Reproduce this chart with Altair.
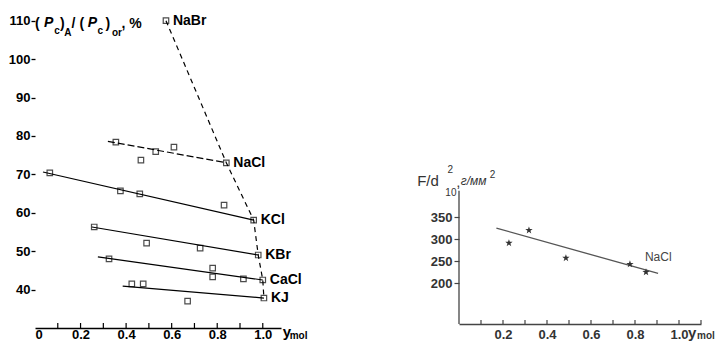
import altair as alt
import pandas as pd

# ---------------- left panel: measured points ----------------
nabr_x = [0.575]
nabr_y = [110.0]
nacl_x = [0.355, 0.465, 0.53, 0.61, 0.84]
nacl_y = [78.4, 73.7, 75.9, 77.1, 73.0]
kcl_x = [0.065, 0.375, 0.46, 0.83, 0.96]
kcl_y = [70.4, 65.7, 64.9, 62.0, 58.1]
kbr_x = [0.26, 0.49, 0.725, 0.98]
kbr_y = [56.3, 52.1, 50.8, 49.0]
cacl_x = [0.325, 0.78, 0.78, 0.915, 1.0]
cacl_y = [48.0, 45.6, 43.3, 42.8, 42.5]
kj_x = [0.425, 0.475, 0.67, 1.005]
kj_y = [41.5, 41.5, 37.0, 37.8]

# fitted straight lines (start / end)
fit_names = ["NaCl", "KCl", "KBr", "CaCl", "KJ"]
fit_x0 = [0.32, 0.035, 0.25, 0.276, 0.385]
fit_y0 = [78.6, 70.6, 56.3, 48.5, 40.9]
fit_x1 = [0.84, 0.96, 0.98, 1.0, 1.005]
fit_y1 = [73.0, 58.1, 49.0, 42.5, 37.8]

# end points joined by the dashed curve, with their labels
env_names = ["NaBr", "NaCl", "KCl", "KBr", "CaCl", "KJ"]
env_x = [0.575, 0.84, 0.96, 0.98, 1.0, 1.005]
env_y = [110.0, 73.0, 58.1, 49.0, 42.5, 37.8]

left_x_labels = [0, 0.2, 0.4, 0.6, 0.8, 1.0]
left_x_ticks = [0.1, 0.2, 0.3, 0.4, 0.5, 0.6, 0.7, 0.8, 0.9, 1.0]
left_y_labels = [40, 50, 60, 70, 80, 90, 100, 110]

# ---------------- right panel ----------------
right_x = [0.227, 0.318, 0.486, 0.777, 0.85]
right_y = [291, 320, 257, 243, 225]
right_fit_x = [0.17, 0.905]
right_fit_y = [325, 222]
right_label = "NaCl"
right_x_labels = [0.2, 0.4, 0.6, 0.8, 1.0]
right_x_ticks = [0.1, 0.2, 0.3, 0.4, 0.5, 0.6, 0.7, 0.8, 0.9, 1.0, 1.1]
right_y_labels = [200, 250, 300, 350]

FONT_L = "Liberation Sans, Arial"
FONT_R = "Liberation Sans, Arial"

# ---------- build tables ----------
pts = []
for name, xs, ys in [("NaBr", nabr_x, nabr_y), ("NaCl", nacl_x, nacl_y), ("KCl", kcl_x, kcl_y),
                     ("KBr", kbr_x, kbr_y), ("CaCl", cacl_x, cacl_y), ("KJ", kj_x, kj_y)]:
    for a, b in zip(xs, ys):
        pts.append({"series": name, "x": a, "y": b})
pts_df = pd.DataFrame(pts)

fit_rows = []
for n, a0, b0, a1, b1 in zip(fit_names, fit_x0, fit_y0, fit_x1, fit_y1):
    fit_rows.append({"series": n, "x": a0, "y": b0, "o": 0})
    fit_rows.append({"series": n, "x": a1, "y": b1, "o": 1})
fit_df = pd.DataFrame(fit_rows)

env_df = pd.DataFrame({"label": env_names, "x": env_x, "y": env_y, "o": list(range(len(env_x)))})

xsL = alt.Scale(domain=[0, 1.08], nice=False, zero=False)
ysL = alt.Scale(domain=[30, 112], nice=False, zero=False)

x_axis_L = alt.Axis(values=left_x_labels, labelExpr="datum.value == 0 ? '0' : format(datum.value, '.1f')",
                    ticks=False, domain=True, domainColor="black", domainWidth=1.3, grid=False, title=None,
                    labelFont=FONT_L, labelFontSize=13, labelFontWeight="bold", labelColor="black",
                    labelPadding=0)
y_axis_L = alt.Axis(values=left_y_labels, domain=False, ticks=True, tickSize=4, tickColor="black",
                    tickWidth=1.3, grid=False, title=None, labelFont=FONT_L, labelFontSize=13,
                    labelFontWeight="bold", labelColor="black", labelPadding=1)

pointsL = alt.Chart(pts_df).mark_point(shape="square", filled=False, size=30, color="black",
                                       strokeWidth=1.2).encode(
    x=alt.X("x:Q", scale=xsL, axis=x_axis_L),
    y=alt.Y("y:Q", scale=ysL, axis=y_axis_L),
)

fit_solid = alt.Chart(fit_df).transform_filter("datum.series != 'NaCl'").mark_line(
    color="black", strokeWidth=1.2).encode(
    x=alt.X("x:Q", scale=xsL), y=alt.Y("y:Q", scale=ysL), detail="series:N", order="o:Q")
fit_dash = alt.Chart(fit_df).transform_filter("datum.series == 'NaCl'").mark_line(
    color="black", strokeWidth=1.2, strokeDash=[7, 3]).encode(
    x=alt.X("x:Q", scale=xsL), y=alt.Y("y:Q", scale=ysL), order="o:Q")

env_line = alt.Chart(env_df).mark_line(color="black", strokeWidth=1.2, strokeDash=[5, 4]).encode(
    x=alt.X("x:Q", scale=xsL), y=alt.Y("y:Q", scale=ysL), order="o:Q")
env_labels = alt.Chart(env_df).mark_text(align="left", baseline="middle", dx=7, font=FONT_L,
                                         fontSize=14, fontWeight="bold", color="black").encode(
    x=alt.X("x:Q", scale=xsL), y=alt.Y("y:Q", scale=ysL), text="label:N")

tick_df_L = pd.DataFrame({"x": left_x_ticks})
ticks_L = alt.Chart(tick_df_L).mark_rule(color="black", strokeWidth=1.2).encode(
    x=alt.X("x:Q", scale=xsL), y=alt.datum(30, scale=ysL), y2=alt.datum(31.3))

# axis titles, written piece by piece (sub-/superscripts)
tL_main = pd.DataFrame({"t": ["(", ")", "/", "(", ")", ", %"],
                        "x": [0.0, 0.11, 0.16, 0.195, 0.31, 0.38],
                        "y": [109.2] * 6})
tL_ital = pd.DataFrame({"t": ["P", "P"], "x": [0.04, 0.232], "y": [109.4, 109.4]})
tL_sub = pd.DataFrame({"t": ["c", "A", "c", "or"], "x": [0.084, 0.128, 0.274, 0.338],
                       "y": [107.4, 106.8, 107.4, 106.8]})
tL_ax = pd.DataFrame({"t": ["y", "mol"], "x": [1.088, 1.118], "y": [29.0, 27.9], "s": [15, 10]})

def txt(df, size, style="normal", weight="bold", font=FONT_L, color="black", scx=xsL, scy=ysL, sizefield=False):
    m = alt.Chart(df).mark_text(align="left", baseline="middle", font=font, fontSize=size,
                                fontStyle=style, fontWeight=weight, color=color)
    enc = dict(x=alt.X("x:Q", scale=scx), y=alt.Y("y:Q", scale=scy), text="t:N")
    if sizefield:
        enc["size"] = alt.Size("s:Q", scale=None, legend=None)
    return m.encode(**enc)

left = alt.layer(
    fit_solid, fit_dash, env_line, ticks_L, pointsL, env_labels,
    txt(tL_main, 14), txt(tL_ital, 14, style="italic"), txt(tL_sub, 10), txt(tL_ax, 14, sizefield=True),
).properties(width=246, height=315)

# ---------------- right panel chart ----------------
xsR = alt.Scale(domain=[0, 1.1], nice=False, zero=False)
ysR = alt.Scale(domain=[107, 814], nice=False, zero=False)

r_df = pd.DataFrame({"x": right_x, "y": right_y})
rfit_df = pd.DataFrame({"x": right_fit_x, "y": right_fit_y})

x_axis_R = alt.Axis(values=right_x_labels, format=".1f", ticks=False, domain=True, domainColor="#444",
                    domainWidth=1.3, grid=False, title=None, labelFont=FONT_R, labelFontSize=13,
                    labelFontWeight="bold", labelColor="#333", labelPadding=4)
y_axis_R = alt.Axis(values=right_y_labels, domain=False, ticks=True, tickSize=5, tickColor="#444",
                    tickWidth=1.2, grid=False, title=None, labelFont=FONT_R, labelFontSize=13,
                    labelFontWeight="bold", labelColor="#333", labelPadding=2)

star = "M0,-1L0.24,-0.33L0.95,-0.31L0.38,0.12L0.59,0.81L0,0.4L-0.59,0.81L-0.38,0.12L-0.95,-0.31L-0.24,-0.33Z"
pointsR = alt.Chart(r_df).mark_point(shape=star, filled=True, size=60, color="#333", opacity=1).encode(
    x=alt.X("x:Q", scale=xsR, axis=x_axis_R), y=alt.Y("y:Q", scale=ysR, axis=y_axis_R))
lineR = alt.Chart(rfit_df).mark_line(color="#555", strokeWidth=1.3).encode(
    x=alt.X("x:Q", scale=xsR), y=alt.Y("y:Q", scale=ysR))
yline_R = alt.Chart(pd.DataFrame({"a": [0]})).mark_rule(color="#444", strokeWidth=1.3).encode(
    x=alt.datum(0, scale=xsR), y=alt.datum(107, scale=ysR), y2=alt.datum(410))
ticks_R = alt.Chart(pd.DataFrame({"x": right_x_ticks})).mark_rule(color="#444", strokeWidth=1.2).encode(
    x=alt.X("x:Q", scale=xsR), y=alt.datum(107, scale=ysR), y2=alt.datum(116))
labR = alt.Chart(pd.DataFrame({"t": [right_label], "x": [0.845], "y": [259]})).mark_text(
    align="left", baseline="middle", font=FONT_R, fontSize=12, color="#444").encode(
    x=alt.X("x:Q", scale=xsR), y=alt.Y("y:Q", scale=ysR), text="t:N")

tR_main = pd.DataFrame({"t": ["F/d", ","], "x": [-0.19, -0.012], "y": [432, 430]})
tR_small = pd.DataFrame({"t": ["2", "10"], "x": [-0.052, -0.062], "y": [458, 405]})
tR_ital = pd.DataFrame({"t": ["г/мм"], "x": [0.008], "y": [432]})
tR_sup = pd.DataFrame({"t": ["2"], "x": [0.14], "y": [446]})
tR_ax = pd.DataFrame({"t": ["y", "mol"], "x": [1.041, 1.082], "y": [86.5, 79.7], "s": [15, 10]})

right = alt.layer(
    yline_R, ticks_R, lineR, pointsR, labR,
    txt(tR_main, 15, weight="normal", font=FONT_R, color="#333", scx=xsR, scy=ysR),
    txt(tR_small, 10, weight="normal", font=FONT_R, color="#333", scx=xsR, scy=ysR),
    txt(tR_ital, 12, style="italic", weight="normal", font=FONT_R, color="#333", scx=xsR, scy=ysR),
    txt(tR_sup, 10, weight="normal", font=FONT_R, color="#333", scx=xsR, scy=ysR),
    txt(tR_ax, 14, weight="bold", font=FONT_R, color="#333", scx=xsR, scy=ysR, sizefield=True),
).properties(width=242, height=311)

chart = alt.hconcat(left, right, spacing=178, bounds="flush").properties(
    padding={"left": 0, "top": 5, "right": 0, "bottom": 0}, background="white"
).configure_view(stroke=None)

chart.save("out.html", embed_options={"renderer": "svg", "actions": False})
